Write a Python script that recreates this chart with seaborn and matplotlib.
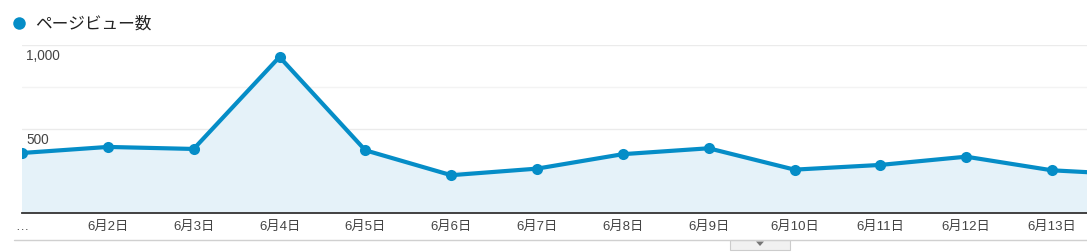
import matplotlib
matplotlib.use("Agg")
import matplotlib.pyplot as plt
import seaborn as sns
import pandas as pd
import numpy as np
from matplotlib.patches import Rectangle, Polygon
from matplotlib.lines import Line2D

dates = ["6月1日", "6月2日", "6月3日", "6月4日", "6月5日", "6月6日", "6月7日",
         "6月8日", "6月9日", "6月10日", "6月11日", "6月12日", "6月13日", "6月14日"]
pageviews = [355, 391, 379, 926, 371, 223, 262, 348, 383, 256, 284, 333, 252, 225]
tick_labels = ["…", "6月2日", "6月3日", "6月4日", "6月5日", "6月6日", "6月7日",
               "6月8日", "6月9日", "6月10日", "6月11日", "6月12日", "6月13日", "6月14日"]
yticks = [500, 1000]
ytick_labels = ["500", "1,000"]
series_name = "ページビュー数"

sns.set_theme(style="white")
plt.rcParams['font.family'] = ['Liberation Sans', 'Noto Sans CJK JP', 'DejaVu Sans']

BLUE = "#058DC7"
FILL = "#E5F2F9"
W, H = 1087, 252
fig = plt.figure(figsize=(W / 100, H / 100), dpi=100)
left = 22 / W
bottom = 1 - 212.7 / H
top = 1 - 44.5 / H
ax = fig.add_axes([left, bottom, 1 - left, top - bottom])

df = pd.DataFrame({"idx": np.arange(len(dates)), "date": dates, "pv": pageviews})
ax.fill_between(df["idx"], df["pv"], 0, color=FILL, zorder=1, linewidth=0)
for gy in [250, 500, 750, 1000]:
    ax.axhline(gy, color="#EBEBEB" if gy in (500, 1000) else "#F3F3F3", lw=1, zorder=0.5)
sns.lineplot(data=df, x="idx", y="pv", ax=ax, color=BLUE, lw=3.0,
             marker="o", markersize=8, markeredgewidth=0, markeredgecolor=BLUE,
             zorder=3)

xmax = (1087 - 22) / (1030 / 12)
visible = df[df["idx"] <= xmax]
ax.set_xticks(visible["idx"])
ax.set_xticklabels([tick_labels[i] for i in visible["idx"]], fontsize=9.5, color="#444444")
ax.set_xlim(0, xmax)
ax.set_ylim(0, 1000)
ax.tick_params(axis="x", length=0, pad=6)
ax.set_yticks([])
ax.set_xlabel("")
ax.set_ylabel("")
for s in ["top", "right", "left"]:
    ax.spines[s].set_visible(False)
ax.spines["bottom"].set_color("#333333")
ax.spines["bottom"].set_linewidth(1.3)
ax.spines["bottom"].set_zorder(4)

for v, lab in zip(yticks, ytick_labels):
    ax.annotate(lab, xy=(0, v), xycoords=("axes fraction", "data"),
                xytext=(3, -3), textcoords="offset points",
                ha="left", va="top", fontsize=9.8, color="#444444")

# legend
fig.add_artist(Line2D([19 / W], [1 - 23 / H], marker="o", markersize=9,
                      color=BLUE, markeredgewidth=0, transform=fig.transFigure))
fig.text(35 / W, 1 - 23.5 / H, series_name, fontsize=12, color="#222222",
         ha="left", va="center")

# bottom bar and tab
fig.add_artist(Line2D([14 / W, 1.0], [1 - 239.5 / H] * 2, color="#D0D0D0", lw=1,
                      transform=fig.transFigure))
fig.add_artist(Rectangle((730 / W, 1 - 250 / H), 60 / W, 10.5 / H,
                         transform=fig.transFigure, facecolor="#F1F1F1",
                         edgecolor="#CCCCCC", lw=0.8))
fig.add_artist(Polygon([[756 / W, 1 - 241.5 / H], [764 / W, 1 - 241.5 / H],
                        [760 / W, 1 - 246 / H]], closed=True,
                       transform=fig.transFigure, facecolor="#777777", edgecolor="none"))

fig.savefig("out.png", dpi=100)
